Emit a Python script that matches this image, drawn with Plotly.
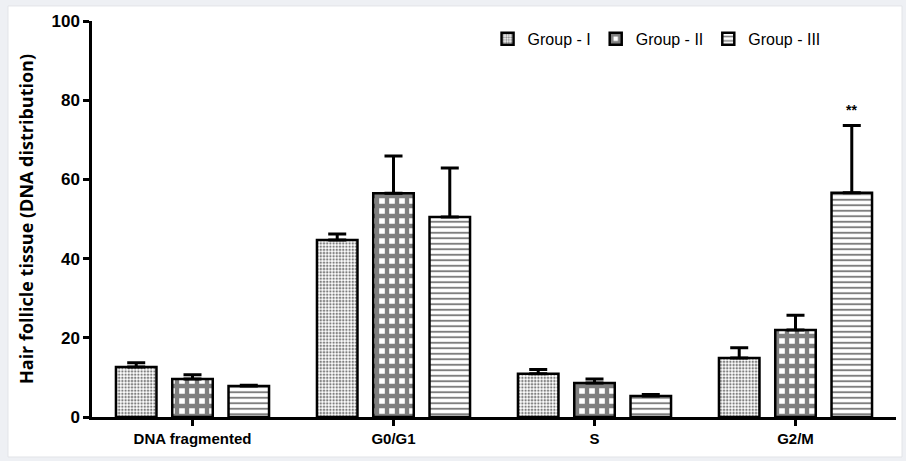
import plotly.graph_objects as go

categories = ["DNA fragmented", "G0/G1", "S", "G2/M"]
groups = ["Group - I", "Group - II", "Group - III"]
group1_mean = [12.6, 44.7, 10.9, 14.9]
group1_sem = [1.1, 1.5, 1.1, 2.6]
group2_mean = [9.6, 56.5, 8.6, 22.0]
group2_sem = [1.1, 9.4, 1.0, 3.7]
group3_mean = [7.8, 50.5, 5.3, 56.6]
group3_sem = [0.2, 12.4, 0.4, 17.0]
y_ticks = [0, 20, 40, 60, 80, 100]

means = [group1_mean, group2_mean, group3_mean]
sems = [group1_sem, group2_sem, group3_sem]
patterns = [
    dict(shape=".", fgcolor="black", bgcolor="white", size=3.2, solidity=0.45),
    dict(shape="+", fgcolor="black", bgcolor="white", size=10, solidity=0.68),
    dict(shape="-", fgcolor="black", bgcolor="white", size=5.5, solidity=0.35),
]

fig = go.Figure()
for name, m, s, pat in zip(groups, means, sems, patterns):
    fig.add_trace(go.Bar(
        name=name,
        x=categories,
        y=m,
        marker=dict(color="white", line=dict(color="black", width=2.5), pattern=pat),
        error_y=dict(type="data", array=s, arrayminus=[0] * len(s), symmetric=False,
                     color="black", thickness=3, width=9),
    ))

# significance marker above G2/M Group III
fig.add_annotation(
    x=categories[3], y=group3_mean[3] + group3_sem[3] + 1.5,
    text="<b>**</b>", showarrow=False, xshift=56, yanchor="bottom",
    font=dict(family="Liberation Sans", size=14, color="black"),
)

# light outer frame
fig.add_shape(type="rect", xref="paper", yref="paper",
              x0=-0.1045, x1=1.0075, y0=-0.101, y1=1.038,
              line=dict(color="#e2e4e8", width=1), fillcolor="white", layer="below")

fig.update_layout(
    width=906, height=461,
    margin=dict(l=92, r=10, t=21, b=44, autoexpand=False),
    paper_bgcolor="#eef0f4",
    plot_bgcolor="rgba(0,0,0,0)",
    barmode="group",
    bargap=0.16,
    bargroupgap=0.28,
    showlegend=True,
    legend=dict(orientation="h", x=0.492, y=0.955, xanchor="left", yanchor="middle",
                font=dict(family="Liberation Sans", size=16, color="black"),
                bgcolor="rgba(0,0,0,0)", itemwidth=30, traceorder="normal"),
    font=dict(family="Liberation Sans", color="black"),
)
fig.update_xaxes(
    showline=True, linecolor="black", linewidth=2.5,
    ticks="outside", ticklen=6, tickwidth=2.5, tickcolor="black",
    tickfont=dict(family="Liberation Sans", size=15, color="black", weight="bold"),
    showgrid=False, range=[-0.5, 3.5], zeroline=False, automargin=False,
)
fig.update_yaxes(
    range=[0, 100], tickvals=y_ticks,
    showline=True, linecolor="black", linewidth=2.5,
    ticks="outside", ticklen=6, tickwidth=2.5, tickcolor="black",
    tickfont=dict(family="Liberation Sans", size=17, color="black", weight="bold"),
    showgrid=False, zeroline=False, automargin=False,
    title=dict(text="Hair follicle tissue (DNA distribution)", standoff=14,
               font=dict(family="Open Sans", size=18, color="black", weight="bold")),
)

fig.write_html("out.html", config={"displayModeBar": False},
               post_script="document.body.style.margin='0';")
